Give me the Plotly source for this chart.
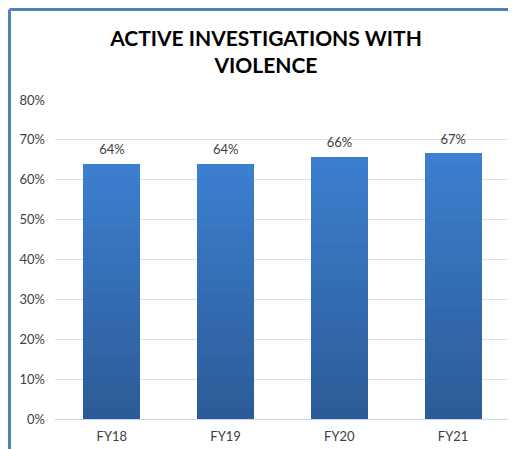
import plotly.graph_objects as go

categories = ["FY18", "FY19", "FY20", "FY21"]
values = [0.64, 0.64, 0.657, 0.666]
tick_values = [0, 0.1, 0.2, 0.3, 0.4, 0.5, 0.6, 0.7, 0.8]
tick_labels = ["0%", "10%", "20%", "30%", "40%", "50%", "60%", "70%", "80%"]

font_family = "Lato, Open Sans, sans-serif"
color_top = (60, 126, 207)
color_bottom = (44, 92, 152)
num_segments = 24

# The page body has an 8px margin, so the figure is sized to end at the window edge.
fig_width = 508
fig_height = 441
margin = {"l": 47, "r": 6, "t": 92, "b": 30}

fig = go.Figure(layout=go.Layout(width=fig_width, height=fig_height))

# Plotly bars have no gradient fill, so each bar is stacked from thin segments
# whose colors go from the dark bottom to the light top.
for i in range(num_segments):
    t = i / (num_segments - 1)
    rgb = [round(b + (a - b) * t) for a, b in zip(color_top, color_bottom)]
    fig.add_trace(
        go.Bar(
            x=categories,
            y=[v / num_segments for v in values],
            marker={"color": f"rgb({rgb[0]},{rgb[1]},{rgb[2]})", "line": {"width": 0}},
            width=0.5,
            showlegend=False,
            hoverinfo="skip",
        )
    )

# Data labels above the bars (an invisible marker pushes the text up a little)
fig.add_trace(
    go.Scatter(
        x=categories,
        y=values,
        mode="markers+text",
        marker={"size": 9, "opacity": 0},
        text=[f"{v:.0%}" for v in values],
        textposition="top center",
        textfont={"family": font_family, "size": 13, "color": "#404040"},
        showlegend=False,
        hoverinfo="skip",
    )
)

# Blue frame on the top and left edges of the figure
plot_w = fig_width - margin["l"] - margin["r"]
plot_h = fig_height - margin["t"] - margin["b"]
x_left = (1.5 - margin["l"]) / plot_w
y_top = (fig_height - 1.5 - margin["b"]) / plot_h
frame = {"type": "line", "xref": "paper", "yref": "paper", "line": {"color": "#4f81bd", "width": 3}}
fig.update_layout(
    shapes=[
        dict(frame, x0=x_left, x1=1.2, y0=y_top, y1=y_top),
        dict(frame, x0=x_left, x1=x_left, y0=y_top, y1=-0.3),
    ]
)

fig.update_layout(
    barmode="stack",
    bargap=0.5,
    paper_bgcolor="white",
    plot_bgcolor="white",
    margin=margin,
    font={"family": font_family, "size": 13, "color": "#404040"},
    title={
        "text": "<b>ACTIVE INVESTIGATIONS WITH<br>VIOLENCE</b>",
        "x": 258 / fig_width,
        "xanchor": "center",
        "xref": "container",
        "y": 1 - 38 / fig_height,
        "yanchor": "top",
        "yref": "container",
        "font": {"family": font_family, "size": 21, "color": "#000000"},
    },
)

fig.update_xaxes(
    showgrid=False,
    showline=False,
    ticks="",
    ticklabelstandoff=8,
    tickfont={"size": 13, "color": "#404040"},
)
fig.update_yaxes(
    range=[0, 0.8],
    tickvals=tick_values,
    ticktext=tick_labels,
    showgrid=True,
    gridcolor="#d6e2f1",
    gridwidth=1,
    zeroline=True,
    zerolinecolor="#c6d7ec",
    zerolinewidth=1,
    ticks="",
    ticklabelstandoff=9,
    tickfont={"size": 13, "color": "#404040"},
)

fig.write_html("out.html")
